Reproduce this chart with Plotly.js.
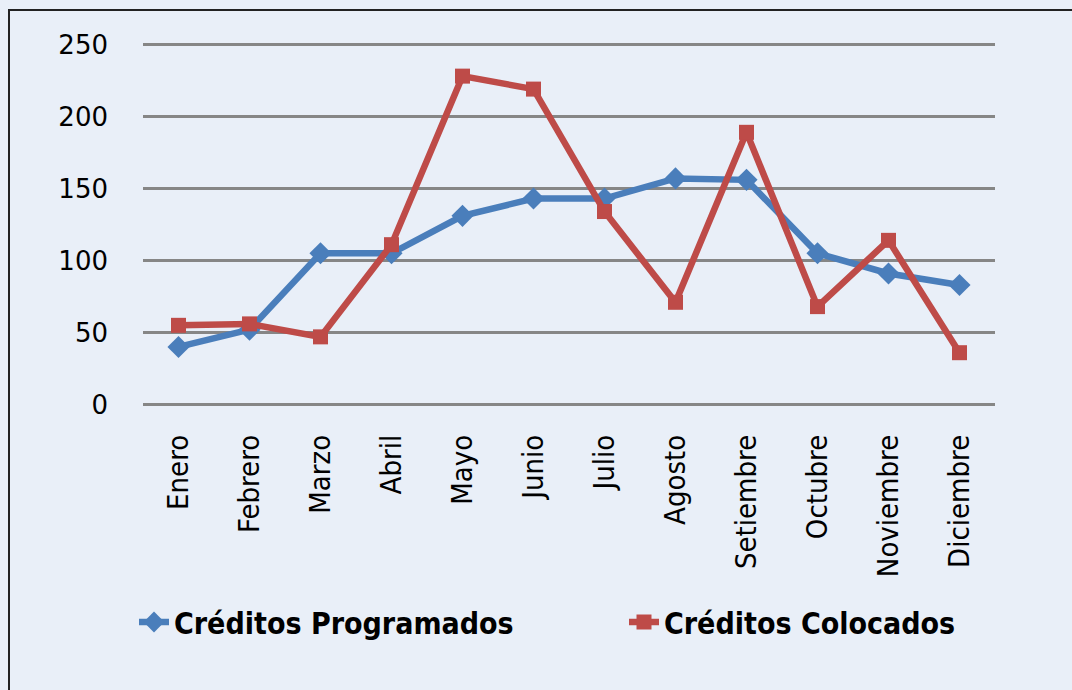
<!DOCTYPE html>
<html>
<head>
<meta charset="utf-8">
<script src="https://cdn.plot.ly/plotly-3.0.1.min.js"></script>
<style>
  html, body { margin:0; padding:0; background:#E9EFF8; }
  #wrap { position:relative; width:1072px; height:690px; overflow:hidden; background:#E9EFF8; }
  #chart { position:absolute; left:0; top:0; width:1072px; height:690px; }
  #frame { position:absolute; left:8px; top:9px; width:1080px; height:700px; border-left:2px solid #222; border-top:2px solid #222; pointer-events:none; }
</style>
</head>
<body>
<div id="wrap">
  <div id="chart"></div>
  <div id="frame"></div>
</div>
<script>
const months = ["Enero","Febrero","Marzo","Abril","Mayo","Junio","Julio","Agosto","Setiembre","Octubre","Noviembre","Diciembre"];
const programados = [40, 52, 105, 105, 131, 143, 143, 157, 156, 105, 91, 83];
const colocados = [55, 56, 47, 111, 228, 219, 134, 71, 189, 68, 114, 36];
const yTicks = [0, 50, 100, 150, 200, 250];

const narrow = "DejaVu Sans Condensed, Liberation Sans Narrow, Arial Narrow, sans-serif";

const traces = [
  {
    x: months, y: programados, name: "Créditos Programados",
    type: "scatter", mode: "lines+markers", legend: "legend",
    line: { color: "#4A7EBB", width: 6.5 },
    marker: { symbol: "diamond", size: 17, color: "#4A7EBB" }
  },
  {
    x: months, y: colocados, name: "Créditos Colocados",
    type: "scatter", mode: "lines+markers", legend: "legend2",
    line: { color: "#BE4B48", width: 6.5 },
    marker: { symbol: "square", size: 15, color: "#BE4B48" }
  }
];

const legendFont = { family: narrow, size: 30, color: "#000", weight: "bold" };

const layout = {
  width: 1072, height: 690,
  margin: { l: 143, r: 77, t: 43, b: 284 },
  paper_bgcolor: "#E9EFF8",
  plot_bgcolor: "#E9EFF8",
  showlegend: true,
  legend: {
    orientation: "h", xref: "container", x: 134/1072, xanchor: "left",
    yref: "container", y: 1 - 622/690, yanchor: "middle",
    font: legendFont, bgcolor: "rgba(0,0,0,0)"
  },
  legend2: {
    orientation: "h", xref: "container", x: 624/1072, xanchor: "left",
    yref: "container", y: 1 - 622/690, yanchor: "middle",
    font: legendFont, bgcolor: "rgba(0,0,0,0)"
  },
  xaxis: {
    type: "category", range: [-0.5, 11.5],
    tickangle: -90, showgrid: false, zeroline: false, showline: false,
    ticks: "", ticklabelstandoff: 22,
    tickfont: { family: narrow, size: 29, color: "#000" }
  },
  yaxis: {
    range: [-1, 251], tickvals: yTicks, ticktext: yTicks.map(String),
    showgrid: true, gridcolor: "#868686", gridwidth: 3,
    zeroline: false, showline: false, ticks: "", ticklabelstandoff: 34,
    tickfont: { family: "DejaVu Sans, Verdana, sans-serif", size: 26, color: "#000" }
  }
};

Plotly.newPlot("chart", traces, layout, { displayModeBar: false, staticPlot: true });
</script>
</body>
</html>
